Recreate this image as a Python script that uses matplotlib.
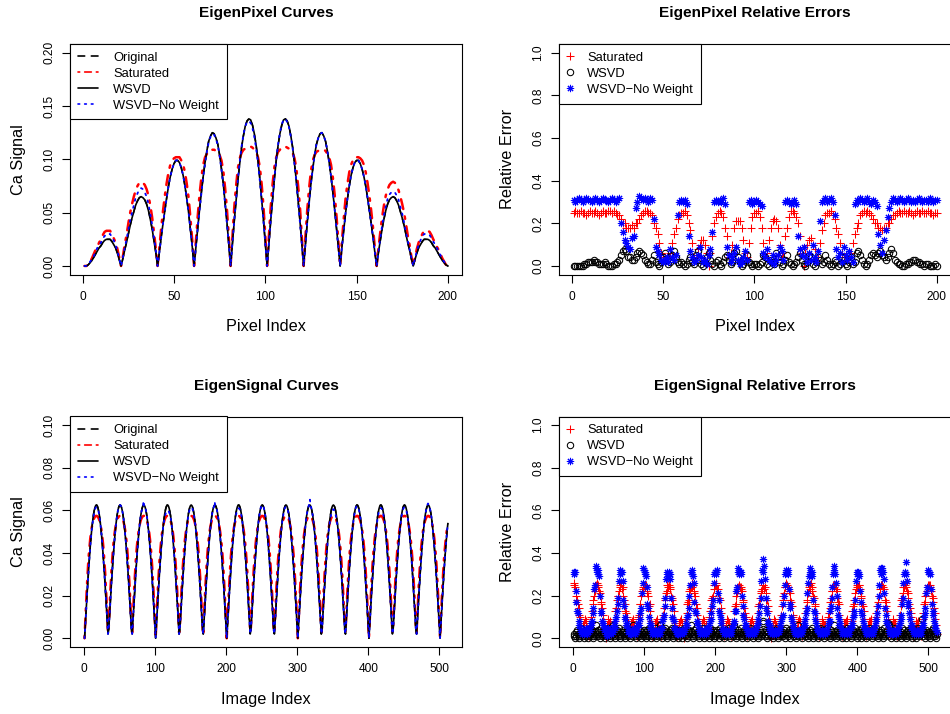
import numpy as np
import matplotlib
matplotlib.use("Agg")
import matplotlib.pyplot as plt

plt.rcParams['font.family'] = ['Liberation Sans', 'DejaVu Sans']

# ---------------- EigenPixel curves (values in 1e-3) ----------------
orig_pixel = np.array([
    0, 0, 1, 3, 5, 8, 11, 14, 17, 19, 22, 24, 25, 25, 25, 23, 20, 17, 12, 6,
    0, 7, 15, 22, 30, 38, 45, 51, 57, 61, 64, 65, 64, 62, 58, 52, 44, 35, 24, 13,
    0, 13, 27, 40, 52, 64, 75, 84, 91, 96, 99, 99, 97, 92, 85, 75, 63, 50, 34, 18,
    0, 18, 36, 53, 69, 84, 97, 108, 117, 122, 125, 124, 120, 114, 104, 91, 77, 59, 41, 21,
    0, 21, 42, 61, 80, 96, 111, 122, 131, 136, 138, 137, 132, 124, 113, 99, 82, 63, 43, 22,
    0, 22, 43, 63, 82, 99, 113, 124, 132, 137, 138, 136, 131, 122, 111, 96, 80, 61, 42, 21,
    0, 21, 41, 59, 77, 91, 104, 114, 120, 124, 125, 122, 117, 108, 97, 84, 69, 53, 36, 18,
    0, 18, 34, 50, 63, 75, 85, 92, 97, 99, 99, 96, 91, 84, 75, 64, 52, 40, 27, 13,
    0, 13, 24, 35, 44, 52, 58, 62, 64, 65, 64, 61, 57, 51, 45, 38, 30, 22, 15, 7,
    0, 6, 12, 17, 20, 23, 25, 25, 25, 24, 22, 19, 17, 14, 11, 8, 5, 3, 1, 0]) / 1e3

sat_pixel = np.array([
    0, 0, 1, 4, 7, 11, 15, 18, 22, 25, 29, 32, 33, 33, 33, 30, 26, 22, 16, 8,
    0, 9, 20, 29, 40, 50, 58, 65, 71, 75, 78, 79, 78, 76, 72, 66, 57, 46, 32, 17,
    0, 17, 36, 52, 66, 78, 88, 95, 99, 101, 102, 102, 102, 99, 95, 88, 77, 64, 45, 24,
    0, 24, 47, 67, 83, 95, 102, 105, 108, 109, 109, 109, 108, 107, 104, 99, 89, 73, 53, 28,
    0, 28, 55, 75, 92, 101, 106, 109, 110, 111, 112, 112, 111, 109, 107, 102, 93, 77, 56, 29,
    0, 29, 56, 77, 93, 102, 107, 109, 111, 112, 112, 111, 110, 109, 106, 101, 92, 75, 55, 28,
    0, 28, 53, 73, 89, 99, 104, 107, 108, 109, 109, 109, 108, 105, 102, 95, 83, 67, 47, 24,
    0, 24, 45, 64, 77, 88, 95, 99, 102, 102, 102, 101, 99, 95, 88, 78, 66, 52, 36, 17,
    0, 17, 32, 46, 57, 66, 72, 76, 78, 79, 78, 75, 71, 65, 58, 50, 40, 29, 20, 9,
    0, 8, 16, 22, 26, 30, 33, 33, 33, 32, 29, 25, 22, 18, 15, 11, 7, 4, 1, 0]) / 1e3

# WSVD reconstruction is indistinguishable from the original in the picture
wsvd_pixel = orig_pixel.copy()

nw_pixel = np.array([
    0, 0, 1, 4, 6, 9, 13, 17, 20, 22, 26, 28, 30, 30, 30, 27, 24, 20, 14, 7,
    0, 8, 17, 25, 34, 43, 50, 57, 64, 68, 72, 73, 72, 69, 65, 58, 49, 39, 27, 15,
    0, 13, 27, 40, 52, 64, 75, 84, 91, 96, 99, 99, 97, 92, 85, 75, 63, 50, 34, 18,
    0, 18, 36, 52, 68, 83, 96, 107, 116, 121, 124, 123, 119, 113, 103, 90, 76, 58, 41, 21,
    0, 22, 43, 63, 82, 98, 112, 123, 131, 135, 136, 134, 129, 121, 110, 96, 80, 61, 42, 21,
    0, 22, 44, 64, 83, 100, 114, 125, 133, 137, 138, 135, 130, 121, 110, 95, 79, 60, 41, 21,
    0, 21, 41, 59, 77, 91, 104, 114, 120, 124, 125, 122, 117, 108, 97, 84, 69, 53, 36, 18,
    0, 18, 34, 50, 63, 75, 85, 92, 97, 99, 99, 96, 91, 84, 75, 64, 52, 40, 27, 13,
    0, 14, 26, 38, 48, 56, 63, 67, 69, 70, 69, 66, 62, 55, 49, 41, 32, 24, 16, 8,
    0, 7, 14, 20, 24, 28, 30, 30, 30, 29, 26, 23, 20, 17, 13, 10, 6, 4, 1, 0]) / 1e3

# ---------------- EigenPixel relative errors (values in 1e-2) ----------------
err_sat_pixel = np.array([
    25, 26, 25, 25, 26, 25, 25, 24, 25, 26, 25, 25, 26, 25, 24, 25, 26, 25, 25, 26,
    26, 25, 26, 25, 24, 24, 22, 20, 20, 18, 18, 18, 19, 18, 20, 20, 22, 24, 25, 26,
    26, 25, 25, 24, 20, 18, 15, 11, 6, 4, 4, 4, 4, 6, 11, 15, 18, 22, 24, 25,
    25, 26, 24, 20, 17, 11, 4, 3, 8, 10, 12, 12, 10, 6, 0, 6, 14, 20, 23, 25,
    26, 25, 23, 18, 14, 4, 6, 10, 18, 21, 21, 21, 18, 12, 6, 4, 11, 18, 23, 25,
    25, 26, 23, 18, 11, 4, 6, 12, 18, 21, 22, 21, 18, 10, 6, 4, 14, 18, 23, 26,
    26, 25, 23, 20, 14, 6, 0, 6, 10, 12, 13, 10, 8, 3, 4, 11, 17, 20, 24, 25,
    25, 26, 24, 22, 18, 15, 11, 6, 4, 4, 3, 4, 6, 11, 15, 18, 20, 24, 25, 26,
    25, 26, 25, 24, 22, 20, 20, 18, 18, 17, 18, 18, 20, 20, 22, 24, 24, 25, 26, 25,
    25, 26, 25, 25, 26, 25, 24, 25, 26, 25, 25, 26, 25, 25, 26, 25, 25, 24, 25, 25]) / 100

err_wsvd_pixel = np.array([
    0, 0, 0, 0, 0, 0, 1, 1, 2, 2, 2, 3, 2, 2, 1, 1, 1, 2, 1, 0,
    0, 0, 1, 1, 2, 3, 5, 7, 8, 7, 4, 4, 3, 3, 4, 6, 7, 6, 5, 3,
    2, 1, 1, 3, 5, 2, 1, 0, 2, 4, 6, 3, 1, 2, 5, 7, 4, 2, 1, 2,
    1, 0, 1, 3, 4, 2, 1, 5, 7, 3, 1, 0, 2, 4, 6, 3, 1, 0, 2, 3,
    1, 0, 2, 4, 5, 3, 1, 2, 6, 7, 4, 2, 0, 1, 3, 5, 2, 1, 0, 1,
    1, 0, 1, 2, 5, 4, 1, 0, 3, 2, 1, 6, 4, 2, 0, 1, 3, 5, 2, 1,
    0, 1, 2, 4, 6, 3, 1, 0, 2, 5, 4, 1, 0, 2, 4, 3, 1, 2, 5, 3,
    1, 0, 1, 3, 2, 0, 1, 4, 3, 1, 0, 2, 4, 1, 2, 6, 7, 5, 3, 1,
    0, 1, 3, 5, 6, 5, 4, 6, 7, 5, 4, 3, 4, 6, 8, 6, 3, 2, 1, 1,
    0, 0, 1, 1, 2, 2, 3, 3, 2, 2, 1, 1, 0, 1, 1, 0, 0, 0, 1, 0]) / 100

err_nw_pixel = np.array([
    31, 30, 31, 32, 31, 30, 31, 32, 31, 31, 30, 31, 32, 31, 30, 31, 32, 31, 31, 30,
    31, 32, 31, 30, 31, 32, 20, 16, 12, 11, 9, 8, 13, 14, 27, 30, 33, 32, 31, 32,
    31, 30, 32, 31, 22, 9, 7, 5, 3, 2, 3, 4, 2, 8, 4, 3, 5, 24, 30, 31,
    30, 31, 29, 14, 7, 4, 2, 3, 5, 9, 4, 2, 3, 1, 5, 8, 16, 30, 31, 30,
    31, 30, 32, 29, 9, 5, 2, 4, 6, 9, 3, 1, 2, 4, 7, 3, 30, 31, 29, 30,
    31, 30, 29, 28, 6, 4, 8, 3, 2, 5, 1, 3, 5, 9, 7, 3, 30, 31, 30, 29,
    30, 31, 29, 14, 8, 5, 9, 4, 2, 6, 3, 10, 4, 2, 7, 21, 30, 31, 32, 30,
    31, 32, 30, 24, 8, 4, 6, 2, 9, 5, 3, 7, 4, 2, 29, 31, 30, 32, 31, 30,
    31, 32, 30, 29, 31, 30, 28, 15, 10, 6, 12, 17, 23, 27, 30, 32, 31, 30, 31, 32,
    31, 30, 31, 32, 31, 30, 31, 30, 31, 32, 31, 30, 31, 31, 30, 32, 31, 30, 31, 31]) / 100

# ---------------- EigenSignal curves (values in 1e-4) ----------------
orig_signal = np.array([
    0, 59, 117, 174, 230, 284, 335, 383, 428, 469, 506, 538, 566, 588, 605, 617, 624, 625, 620, 610, 594, 574, 548, 517, 482, 442, 398, 351, 301, 248, 193, 136, 78, 20,
    39, 98, 155, 212, 266, 318, 367, 413, 456, 494, 528, 557, 581, 600, 614, 622, 625, 622, 614, 600, 581, 557, 528, 494, 456, 413, 367, 318, 266, 212, 155, 98, 39,
    20, 78, 136, 193, 248, 301, 351, 398, 442, 482, 517, 548, 574, 594, 610, 620, 625, 624, 617, 605, 588, 566, 538, 506, 469, 428, 383, 335, 284, 230, 174, 117, 59,
    0, 59, 117, 174, 230, 284, 335, 383, 428, 469, 506, 538, 566, 588, 605, 617, 624, 625, 620, 610, 594, 574, 548, 517, 482, 442, 398, 351, 301, 248, 193, 136, 78, 20,
    39, 98, 155, 212, 266, 318, 367, 413, 456, 494, 528, 557, 581, 600, 614, 622, 625, 622, 614, 600, 581, 557, 528, 494, 456, 413, 367, 318, 266, 212, 155, 98, 39,
    20, 78, 136, 193, 248, 301, 351, 398, 442, 482, 517, 548, 574, 594, 610, 620, 625, 624, 617, 605, 588, 566, 538, 506, 469, 428, 383, 335, 284, 230, 174, 117, 59,
    0, 59, 117, 174, 230, 284, 335, 383, 428, 469, 506, 538, 566, 588, 605, 617, 624, 625, 620, 610, 594, 574, 548, 517, 482, 442, 398, 351, 301, 248, 193, 136, 78, 20,
    39, 98, 155, 212, 266, 318, 367, 413, 456, 494, 528, 557, 581, 600, 614, 622, 625, 622, 614, 600, 581, 557, 528, 494, 456, 413, 367, 318, 266, 212, 155, 98, 39,
    20, 78, 136, 193, 248, 301, 351, 398, 442, 482, 517, 548, 574, 594, 610, 620, 625, 624, 617, 605, 588, 566, 538, 506, 469, 428, 383, 335, 284, 230, 174, 117, 59,
    0, 59, 117, 174, 230, 284, 335, 383, 428, 469, 506, 538, 566, 588, 605, 617, 624, 625, 620, 610, 594, 574, 548, 517, 482, 442, 398, 351, 301, 248, 193, 136, 78, 20,
    39, 98, 155, 212, 266, 318, 367, 413, 456, 494, 528, 557, 581, 600, 614, 622, 625, 622, 614, 600, 581, 557, 528, 494, 456, 413, 367, 318, 266, 212, 155, 98, 39,
    20, 78, 136, 193, 248, 301, 351, 398, 442, 482, 517, 548, 574, 594, 610, 620, 625, 624, 617, 605, 588, 566, 538, 506, 469, 428, 383, 335, 284, 230, 174, 117, 59,
    0, 59, 117, 174, 230, 284, 335, 383, 428, 469, 506, 538, 566, 588, 605, 617, 624, 625, 620, 610, 594, 574, 548, 517, 482, 442, 398, 351, 301, 248, 193, 136, 78, 20,
    39, 98, 155, 212, 266, 318, 367, 413, 456, 494, 528, 557, 581, 600, 614, 622, 625, 622, 614, 600, 581, 557, 528, 494, 456, 413, 367, 318, 266, 212, 155, 98, 39,
    20, 78, 136, 193, 248, 301, 351, 398, 442, 482, 517, 548, 574, 594, 610, 620, 625, 624, 617, 605, 588, 566, 538, 506, 469, 428, 383, 335, 284, 230, 174, 117, 59,
    0, 59, 117, 174, 230, 284, 335, 383, 428, 469, 506, 538]) / 1e4

sat_signal = np.array([
    0, 78, 153, 223, 287, 344, 392, 432, 466, 494, 517, 534, 548, 559, 566, 571, 574, 574, 572, 568, 561, 552, 539, 523, 503, 476, 444, 406, 360, 307, 245, 177, 103, 27,
    52, 129, 200, 267, 325, 376, 420, 456, 486, 510, 529, 544, 555, 564, 570, 573, 574, 573, 570, 564, 555, 544, 529, 510, 486, 456, 420, 376, 325, 267, 200, 129, 52,
    27, 103, 177, 245, 307, 360, 406, 444, 476, 503, 523, 539, 552, 561, 568, 572, 574, 574, 571, 566, 559, 548, 534, 517, 494, 466, 432, 392, 344, 287, 223, 153, 78,
    0, 78, 153, 223, 287, 344, 392, 432, 466, 494, 517, 534, 548, 559, 566, 571, 574, 574, 572, 568, 561, 552, 539, 523, 503, 476, 444, 406, 360, 307, 245, 177, 103, 27,
    52, 129, 200, 267, 325, 376, 420, 456, 486, 510, 529, 544, 555, 564, 570, 573, 574, 573, 570, 564, 555, 544, 529, 510, 486, 456, 420, 376, 325, 267, 200, 129, 52,
    27, 103, 177, 245, 307, 360, 406, 444, 476, 503, 523, 539, 552, 561, 568, 572, 574, 574, 571, 566, 559, 548, 534, 517, 494, 466, 432, 392, 344, 287, 223, 153, 78,
    0, 78, 153, 223, 287, 344, 392, 432, 466, 494, 517, 534, 548, 559, 566, 571, 574, 574, 572, 568, 561, 552, 539, 523, 503, 476, 444, 406, 360, 307, 245, 177, 103, 27,
    52, 129, 200, 267, 325, 376, 420, 456, 486, 510, 529, 544, 555, 564, 570, 573, 574, 573, 570, 564, 555, 544, 529, 510, 486, 456, 420, 376, 325, 267, 200, 129, 52,
    27, 103, 177, 245, 307, 360, 406, 444, 476, 503, 523, 539, 552, 561, 568, 572, 574, 574, 571, 566, 559, 548, 534, 517, 494, 466, 432, 392, 344, 287, 223, 153, 78,
    0, 78, 153, 223, 287, 344, 392, 432, 466, 494, 517, 534, 548, 559, 566, 571, 574, 574, 572, 568, 561, 552, 539, 523, 503, 476, 444, 406, 360, 307, 245, 177, 103, 27,
    52, 129, 200, 267, 325, 376, 420, 456, 486, 510, 529, 544, 555, 564, 570, 573, 574, 573, 570, 564, 555, 544, 529, 510, 486, 456, 420, 376, 325, 267, 200, 129, 52,
    27, 103, 177, 245, 307, 360, 406, 444, 476, 503, 523, 539, 552, 561, 568, 572, 574, 574, 571, 566, 559, 548, 534, 517, 494, 466, 432, 392, 344, 287, 223, 153, 78,
    0, 78, 153, 223, 287, 344, 392, 432, 466, 494, 517, 534, 548, 559, 566, 571, 574, 574, 572, 568, 561, 552, 539, 523, 503, 476, 444, 406, 360, 307, 245, 177, 103, 27,
    52, 129, 200, 267, 325, 376, 420, 456, 486, 510, 529, 544, 555, 564, 570, 573, 574, 573, 570, 564, 555, 544, 529, 510, 486, 456, 420, 376, 325, 267, 200, 129, 52,
    27, 103, 177, 245, 307, 360, 406, 444, 476, 503, 523, 539, 552, 561, 568, 572, 574, 574, 571, 566, 559, 548, 534, 517, 494, 466, 432, 392, 344, 287, 223, 153, 78,
    0, 78, 153, 223, 287, 344, 392, 432, 466, 494, 517, 534]) / 1e4

wsvd_signal = orig_signal.copy()

nw_signal = np.array([
    0, 59, 117, 174, 230, 284, 335, 383, 428, 469, 506, 532, 556, 578, 595, 607, 614, 615, 612, 603, 590, 572, 548, 517, 482, 442, 398, 351, 301, 248, 193, 136, 78, 20,
    39, 98, 155, 212, 266, 318, 367, 413, 456, 494, 528, 557, 581, 600, 614, 622, 625, 622, 614, 600, 581, 557, 528, 494, 456, 413, 367, 318, 266, 212, 155, 98, 39,
    20, 78, 136, 193, 248, 301, 351, 398, 442, 482, 517, 548, 574, 594, 605, 612, 645, 610, 612, 605, 588, 566, 538, 506, 469, 428, 383, 335, 284, 230, 174, 117, 59,
    0, 59, 117, 174, 230, 284, 335, 383, 428, 469, 506, 530, 552, 570, 583, 593, 598, 600, 597, 590, 580, 565, 545, 517, 482, 442, 398, 351, 301, 248, 193, 136, 78, 20,
    39, 98, 155, 212, 266, 318, 367, 413, 456, 494, 528, 552, 575, 592, 605, 612, 614, 612, 605, 592, 575, 552, 528, 494, 456, 413, 367, 318, 266, 212, 155, 98, 39,
    20, 78, 136, 193, 248, 301, 351, 398, 442, 482, 517, 548, 574, 594, 610, 616, 640, 618, 612, 605, 588, 566, 538, 506, 469, 428, 383, 335, 284, 230, 174, 117, 59,
    0, 59, 117, 174, 230, 284, 335, 383, 428, 469, 506, 535, 560, 578, 592, 603, 609, 610, 606, 597, 585, 568, 545, 517, 482, 442, 398, 351, 301, 248, 193, 136, 78, 20,
    39, 98, 155, 212, 266, 318, 367, 413, 456, 494, 528, 557, 581, 600, 614, 622, 625, 622, 614, 600, 581, 557, 528, 494, 456, 413, 367, 318, 266, 212, 155, 98, 39,
    20, 78, 136, 193, 248, 301, 351, 398, 442, 482, 517, 545, 568, 588, 603, 612, 617, 616, 610, 599, 584, 563, 538, 506, 469, 428, 383, 335, 284, 230, 174, 117, 59,
    0, 59, 117, 174, 230, 284, 335, 383, 428, 469, 506, 538, 566, 588, 605, 617, 630, 650, 625, 610, 594, 574, 548, 517, 482, 442, 398, 351, 301, 248, 193, 136, 78, 20,
    39, 98, 155, 212, 266, 318, 367, 413, 456, 494, 520, 545, 565, 582, 594, 602, 605, 602, 594, 582, 565, 545, 520, 494, 456, 413, 367, 318, 266, 212, 155, 98, 39,
    20, 78, 136, 193, 248, 301, 351, 398, 442, 482, 517, 546, 570, 590, 606, 616, 620, 619, 613, 601, 585, 564, 538, 506, 469, 428, 383, 335, 284, 230, 174, 117, 59,
    0, 59, 117, 174, 230, 284, 335, 383, 428, 469, 506, 532, 558, 578, 593, 604, 610, 611, 607, 598, 584, 567, 545, 517, 482, 442, 398, 351, 301, 248, 193, 136, 78, 20,
    39, 98, 155, 212, 266, 318, 367, 413, 456, 494, 528, 552, 575, 592, 605, 612, 614, 612, 605, 592, 575, 552, 528, 494, 456, 413, 367, 318, 266, 212, 155, 98, 39,
    20, 78, 136, 193, 248, 301, 351, 398, 442, 482, 517, 548, 574, 594, 612, 624, 632, 628, 617, 605, 588, 566, 538, 506, 469, 428, 383, 335, 284, 230, 174, 117, 59,
    0, 59, 117, 174, 230, 284, 335, 383, 428, 469, 506, 538]) / 1e4

# ---------------- EigenSignal relative errors (values in 1e-2) ----------------
err_sat_signal = np.array([
    25, 26, 24, 22, 20, 18, 16, 14, 11, 10, 5, 3, 2, 4, 6, 7, 9, 8, 7, 5, 4, 2, 1, 3, 7, 10, 13, 16, 18, 20, 22, 24, 25, 26,
    24, 25, 22, 21, 17, 16, 14, 11, 8, 5, 3, 0, 2, 6, 7, 9, 7, 8, 5, 4, 2, 1, 3, 5, 8, 13, 14, 18, 20, 20, 22, 25, 24,
    26, 23, 24, 20, 18, 16, 13, 12, 10, 7, 1, 2, 4, 5, 7, 8, 9, 7, 6, 4, 3, 2, 1, 7, 10, 11, 16, 16, 20, 22, 24, 23, 25,
    25, 24, 25, 22, 21, 20, 15, 16, 13, 8, 6, 1, 2, 3, 5, 7, 8, 9, 8, 6, 4, 3, 2, 1, 5, 9, 11, 14, 18, 19, 21, 22, 25, 24,
    25, 23, 24, 20, 19, 18, 16, 13, 9, 7, 2, 1, 4, 4, 6, 7, 8, 9, 7, 5, 3, 0, 2, 7, 9, 12, 16, 17, 18, 22, 23, 24, 26,
    24, 25, 22, 21, 20, 16, 14, 11, 8, 6, 3, 2, 3, 6, 7, 9, 8, 8, 5, 6, 2, 1, 3, 5, 10, 13, 14, 18, 19, 20, 23, 25, 25,
    26, 25, 23, 23, 19, 19, 18, 14, 12, 9, 7, 2, 1, 4, 5, 6, 9, 8, 7, 6, 5, 4, 1, 2, 6, 8, 13, 15, 16, 20, 21, 23, 24, 25,
    24, 24, 23, 22, 18, 17, 14, 12, 10, 6, 1, 2, 3, 5, 7, 8, 7, 9, 6, 4, 4, 1, 3, 6, 8, 12, 15, 16, 19, 21, 22, 23, 25,
    25, 23, 24, 21, 18, 18, 15, 13, 9, 5, 2, 0, 3, 4, 6, 9, 8, 7, 6, 5, 3, 2, 2, 6, 9, 11, 15, 18, 20, 21, 24, 24, 26,
    25, 24, 24, 22, 21, 18, 17, 15, 11, 10, 6, 3, 2, 2, 5, 7, 8, 9, 8, 5, 5, 3, 1, 3, 5, 9, 12, 14, 17, 18, 21, 24, 23, 25,
    26, 24, 22, 20, 19, 16, 15, 12, 8, 7, 3, 1, 3, 5, 5, 8, 9, 7, 6, 6, 3, 2, 1, 6, 10, 12, 14, 17, 19, 22, 22, 25, 24,
    25, 25, 23, 22, 19, 17, 16, 11, 9, 6, 2, 1, 2, 5, 7, 7, 8, 9, 6, 4, 2, 1, 3, 7, 8, 13, 15, 16, 18, 21, 23, 24, 25,
    24, 25, 25, 23, 20, 19, 16, 15, 13, 9, 5, 2, 1, 3, 6, 6, 8, 8, 9, 6, 4, 3, 2, 2, 6, 10, 12, 15, 17, 20, 20, 23, 25, 25,
    25, 24, 23, 21, 18, 17, 15, 13, 9, 5, 2, 2, 3, 4, 6, 9, 8, 7, 7, 5, 3, 1, 2, 5, 9, 11, 15, 18, 19, 21, 24, 24, 25,
    26, 24, 22, 21, 19, 16, 14, 12, 10, 6, 3, 1, 4, 5, 6, 8, 7, 8, 6, 4, 4, 2, 1, 6, 9, 12, 16, 17, 20, 21, 22, 25, 24,
    25, 24, 25, 22, 20, 19, 17, 14, 12, 9, 6, 2]) / 100

err_wsvd_signal = np.array([
    1, 2, 0, 3, 1, 4, 2, 1, 0, 2, 3, 5, 2, 1, 3, 0, 2, 4, 1, 3, 2, 0, 1, 5, 3, 2, 4, 1, 0, 2, 3, 1, 6, 2, 4, 1, 3, 0, 2, 5, 1, 3, 2, 4, 0, 1, 3, 2, 5, 1,
    2, 0, 3, 1, 4, 2, 6, 1, 3, 0, 2, 4, 1, 3, 5, 2, 0, 1, 3, 2, 4, 1, 2, 0, 3, 5, 2, 1, 4, 3, 0, 2, 1, 3, 6, 2, 4, 1, 0, 3, 2, 5, 1, 2, 4, 0, 3, 1, 2, 4,
    3, 1, 0, 2, 4, 1, 5, 2, 3, 0, 1, 4, 2, 3, 1, 5, 0, 2, 3, 1, 4, 2, 6, 1, 3, 0, 2, 4, 1, 5, 3, 2, 0, 1, 3, 4, 2, 1, 5, 2, 0, 3, 1, 4, 2, 3, 1, 0, 2, 4,
    1, 3, 2, 0, 4, 2, 5, 1, 3, 2, 0, 1, 4, 3, 2, 6, 1, 3, 0, 2, 4, 1, 5, 2, 3, 1, 0, 2, 4, 3, 1, 2, 5, 0, 3, 1, 2, 4, 1, 3, 2, 0, 5, 1, 3, 2, 4, 1, 0, 2,
    3, 1, 4, 2, 0, 3, 5, 1, 2, 4, 1, 3, 0, 2, 1, 4, 3, 2, 5, 1, 0, 3, 2, 4, 1, 2, 6, 3, 1, 0, 2, 4, 1, 3, 2, 5, 1, 0, 3, 2, 4, 1, 2, 3, 0, 4, 1, 2, 5, 3,
    1, 2, 0, 3, 4, 1, 2, 5, 3, 1, 0, 2, 4, 3, 1, 2, 7, 8, 3, 1, 4, 2, 0, 3, 1, 5, 2, 4, 1, 3, 0, 2, 1, 4, 3, 2, 5, 1, 0, 3, 2, 4, 1, 2, 3, 1, 4, 0, 2, 5,
    2, 3, 1, 4, 0, 2, 3, 5, 1, 2, 4, 1, 3, 0, 2, 6, 1, 3, 2, 4, 1, 0, 3, 2, 5, 1, 2, 4, 3, 1, 0, 2, 4, 1, 3, 2, 5, 0, 1, 3, 2, 4, 1, 2, 0, 3, 5, 1, 2, 4,
    1, 3, 0, 2, 4, 1, 5, 2, 3, 1, 0, 2, 4, 3, 1, 2, 6, 1, 3, 0, 2, 4, 1, 3, 2, 5, 1, 0, 2, 3, 4, 1, 2, 0, 3, 5, 2, 1, 4, 3, 0, 2, 1, 4, 3, 2, 5, 1, 0, 3,
    2, 4, 1, 3, 0, 2, 5, 1, 3, 2, 4, 0, 1, 3, 2, 5, 1, 2, 4, 3, 0, 1, 3, 2, 4, 1, 5, 2, 0, 3, 1, 2, 4, 3, 1, 0, 2, 5, 1, 3, 2, 4, 7, 6, 1, 3, 0, 2, 4, 1,
    3, 2, 5, 1, 0, 2, 4, 3, 1, 2, 0, 3, 5, 1, 2, 4, 1, 3, 0, 2, 4, 1, 3, 2, 5, 1, 0, 2, 3, 4, 1, 2, 0, 3, 5, 2, 1, 4, 3, 2, 9, 4, 1, 3, 0, 2, 4, 1, 3, 2,
    1, 3, 0, 2, 4, 1, 5, 2, 3, 1, 0, 2]) / 100

err_nw_signal = np.array([
    31, 30, 31, 22, 17, 13, 12, 8, 6, 5, 4, 3, 2, 4, 3, 2, 3, 5, 4, 2, 3, 3, 5, 4, 6, 7, 8, 12, 14, 23, 25, 34, 33, 31,
    30, 32, 29, 20, 13, 12, 8, 7, 6, 4, 5, 2, 3, 1, 3, 5, 2, 4, 2, 3, 4, 3, 5, 6, 5, 8, 10, 13, 16, 19, 27, 30, 32,
    31, 31, 27, 18, 15, 10, 9, 6, 7, 5, 3, 4, 2, 3, 2, 4, 3, 3, 5, 2, 4, 3, 4, 6, 7, 6, 9, 12, 14, 21, 26, 33, 32,
    30, 31, 29, 24, 16, 14, 10, 7, 5, 6, 3, 2, 4, 3, 2, 3, 4, 3, 2, 4, 3, 2, 4, 5, 5, 8, 9, 11, 15, 19, 28, 30, 31, 29,
    31, 30, 28, 19, 14, 10, 9, 8, 5, 5, 3, 3, 2, 2, 4, 3, 2, 3, 4, 2, 3, 4, 3, 5, 7, 6, 10, 11, 14, 20, 25, 31, 30,
    32, 29, 26, 17, 13, 12, 8, 7, 6, 4, 4, 2, 3, 4, 2, 3, 3, 2, 3, 5, 2, 3, 5, 4, 6, 8, 9, 12, 15, 18, 26, 30, 31,
    31, 30, 32, 21, 18, 13, 11, 9, 7, 4, 5, 3, 2, 3, 4, 2, 3, 4, 3, 2, 4, 3, 2, 5, 6, 7, 8, 13, 13, 22, 24, 31, 33, 30,
    31, 31, 30, 20, 15, 11, 9, 6, 6, 5, 4, 2, 3, 3, 2, 4, 3, 2, 4, 3, 2, 3, 4, 5, 6, 7, 9, 12, 15, 19, 27, 32, 31,
    37, 34, 28, 19, 14, 12, 8, 7, 5, 6, 3, 3, 2, 4, 3, 2, 4, 3, 2, 3, 3, 4, 3, 6, 5, 8, 10, 11, 16, 20, 25, 30, 32,
    31, 32, 30, 23, 16, 14, 10, 8, 6, 5, 3, 4, 2, 3, 2, 3, 2, 4, 3, 4, 2, 3, 4, 5, 7, 6, 9, 12, 14, 21, 26, 29, 33, 31,
    30, 31, 29, 18, 13, 12, 9, 7, 5, 4, 4, 3, 2, 2, 3, 4, 3, 2, 3, 2, 4, 3, 3, 4, 6, 8, 8, 13, 15, 19, 24, 30, 34,
    32, 30, 26, 20, 14, 11, 9, 6, 7, 5, 3, 2, 4, 3, 2, 3, 3, 2, 4, 3, 2, 4, 5, 5, 6, 7, 10, 11, 13, 18, 27, 31, 30,
    31, 30, 29, 22, 17, 13, 11, 8, 6, 5, 4, 3, 2, 3, 4, 2, 3, 3, 2, 4, 3, 2, 4, 5, 6, 8, 9, 12, 15, 20, 25, 32, 33, 30,
    33, 31, 28, 21, 14, 11, 8, 7, 6, 4, 3, 2, 3, 4, 2, 3, 2, 4, 3, 2, 3, 4, 3, 5, 6, 7, 9, 11, 16, 19, 26, 30, 31,
    36, 30, 27, 17, 15, 12, 9, 6, 5, 6, 4, 3, 2, 3, 3, 2, 4, 3, 2, 3, 4, 2, 4, 5, 7, 6, 10, 12, 14, 21, 24, 31, 32,
    31, 30, 30, 23, 16, 13, 11, 8, 6, 5, 4, 3]) / 100

curve_labels = ["Original", "Saturated", "WSVD", "WSVD\u2212No Weight"]
err_labels = ["Saturated", "WSVD", "WSVD\u2212No Weight"]

# ---------------- layout (R par(mfrow=c(2,2)) look) ----------------
W, H = 950, 714
fig = plt.figure(figsize=(W / 100, H / 100), dpi=100)


def px_axes(left, top, right, bottom):
    return fig.add_axes([left / W, 1 - bottom / H, (right - left) / W, (bottom - top) / H])


def r_style(ax, xticks, yticks, yfmt):
    for sp in ax.spines.values():
        sp.set_linewidth(0.8)
    ax.set_xticks(xticks)
    ax.set_xticklabels([str(v) for v in xticks])
    ax.set_yticks(yticks)
    ax.set_yticklabels([yfmt % v for v in yticks])
    ax.tick_params(direction='out', length=5.5, width=0.8, labelsize=8.6)
    ax.tick_params(axis='x', pad=6.5)
    ax.tick_params(axis='y', pad=5, labelrotation=90)
    for lab in ax.get_yticklabels():
        lab.set_va('center')


def curves(ax, orig, sat, wsvd, nw):
    x = lambda v: np.arange(1, len(v) + 1)
    h1, = ax.plot(x(orig), orig, color='black', lw=1.1, linestyle=(0, (4, 4)), dash_capstyle='round')
    h2, = ax.plot(x(sat), sat, color='red', lw=1.8, linestyle=(0, (1, 3, 4, 3)), dash_capstyle='round')
    h3, = ax.plot(x(wsvd), wsvd, color='black', lw=1.2, solid_capstyle='round')
    h4, = ax.plot(x(nw), nw, color='blue', lw=1.3, linestyle=(0, (1, 3)), dash_capstyle='round')
    leg = ax.legend([h1, h2, h3, h4], curve_labels, loc='upper left', borderaxespad=0,
                    fancybox=False, framealpha=1, edgecolor='black', fontsize=9.3,
                    handlelength=1.6, handletextpad=1.16, borderpad=0.6, labelspacing=0.3)
    leg.get_frame().set_linewidth(0.8)
    # legend keys drawn with R's default line width
    for ln in leg.get_lines():
        ln.set_linewidth(1.2)


def errors(ax, e_sat, e_wsvd, e_nw):
    x = lambda v: np.arange(1, len(v) + 1)
    h1, = ax.plot(x(e_sat), e_sat, linestyle='none', marker='+', ms=5.2, mew=0.75, color='red')
    h2, = ax.plot(x(e_wsvd), e_wsvd, linestyle='none', marker='o', ms=4.6, mew=0.75,
                  mfc='none', mec='black')
    h3, = ax.plot(x(e_nw), e_nw, linestyle='none', marker=(8, 2, 0), ms=5.2, mew=0.75, color='blue')
    leg = ax.legend([h1, h2, h3], err_labels, loc='upper left', borderaxespad=0, numpoints=1,
                    fancybox=False, framealpha=1, edgecolor='black', fontsize=9.3,
                    handlelength=0.51, handletextpad=1.08, borderpad=0.6, labelspacing=0.3)
    leg.get_frame().set_linewidth(0.8)


ax1 = px_axes(70, 44.2, 462.4, 274.5)
ax2 = px_axes(559, 44.2, 951.4, 274.5)
ax3 = px_axes(70, 416.5, 462.4, 646.8)
ax4 = px_axes(559, 416.5, 951.4, 646.8)

curves(ax1, orig_pixel, sat_pixel, wsvd_pixel, nw_pixel)
ax1.set_xlim(-6.96, 207.96)
ax1.set_ylim(-0.008, 0.208)
r_style(ax1, [0, 50, 100, 150, 200], [0, 0.05, 0.10, 0.15, 0.20], '%.2f')

errors(ax2, err_sat_pixel, err_wsvd_pixel, err_nw_pixel)
ax2.set_xlim(-6.96, 207.96)
ax2.set_ylim(-0.04, 1.04)
r_style(ax2, [0, 50, 100, 150, 200], [0, 0.2, 0.4, 0.6, 0.8, 1.0], '%.1f')

curves(ax3, orig_signal, sat_signal, wsvd_signal, nw_signal)
ax3.set_xlim(-19.44, 532.44)
ax3.set_ylim(-0.004, 0.104)
r_style(ax3, [0, 100, 200, 300, 400, 500], [0, 0.02, 0.04, 0.06, 0.08, 0.10], '%.2f')

errors(ax4, err_sat_signal, err_wsvd_signal, err_nw_signal)
ax4.set_xlim(-19.44, 532.44)
ax4.set_ylim(-0.04, 1.04)
r_style(ax4, [0, 100, 200, 300, 400, 500], [0, 0.2, 0.4, 0.6, 0.8, 1.0], '%.1f')


def ftext(x, y, s, **kw):
    fig.text(x / W, 1 - y / H, s, ha='center', va='center', **kw)


titles = ["EigenPixel Curves", "EigenPixel Relative Errors",
          "EigenSignal Curves", "EigenSignal Relative Errors"]
xlabels = ["Pixel Index", "Pixel Index", "Image Index", "Image Index"]
ylabels = ["Ca Signal", "Relative Error", "Ca Signal", "Relative Error"]
col_x = [266.2, 755.2]
col_ylab = [18, 507]
row_title = [13.5, 386]
row_xlab = [327, 699.3]
row_mid = [159.4, 531.6]

for i in range(4):
    r, c = divmod(i, 2)
    ftext(col_x[c], row_title[r], titles[i], fontsize=11.1, fontweight='bold')
    ftext(col_x[c], row_xlab[r], xlabels[i], fontsize=11.7)
    ftext(col_ylab[c], row_mid[r], ylabels[i], fontsize=11.7, rotation=90)

fig.savefig("out.png", dpi=100)
